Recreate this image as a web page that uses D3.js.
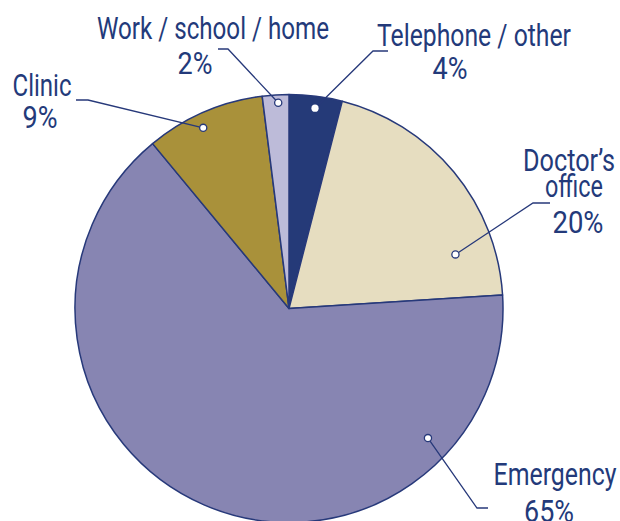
<!DOCTYPE html>
<html>
<head>
<meta charset="utf-8">
<script src="https://cdn.jsdelivr.net/npm/d3@7"></script>
<style>
  body { margin: 0; background: #fff; }
  svg text { font-family: Roboto, "Liberation Sans", sans-serif; fill: #233a7a; }
</style>
</head>
<body>
<svg id="pie-svg" width="620" height="521"></svg>
<script>
// Data (clockwise from 12 o'clock)
const categories = ["Telephone / other", "Doctor\u2019s office", "Emergency", "Clinic", "Work / school / home"];
const values = [4, 20, 65, 9, 2];
const colors = ["#253a78", "#e6ddc0", "#8785b2", "#a9913a", "#bdbbd9"];

// Label text lines
const labelLines = [
  ["Telephone / other", "4%"],
  ["Doctor\u2019s", "office", "20%"],
  ["Emergency", "65%"],
  ["Clinic", "9%"],
  ["Work / school / home", "2%"]
];
// leader layout: dot angle (deg), dot radius, elbow + end of line, text centre/baseline, text width
const labelLayout = [
  {dotAngle: 7.4, dotR: 202, elbow: [373, 51], end: [388, 51],
   text: [[474, 46, 194], [450, 79, 35]]},
  {dotAngle: 72, dotR: 175, elbow: [533, 203], end: [550, 203],
   text: [[569, 171, 92], [574, 197, 58], [578, 233, 51]]},
  {dotAngle: 133, dotR: 190, elbow: [477, 508], end: [488, 508],
   text: [[555, 485, 123], [549, 522, 50]]},
  {dotAngle: -25.4, dotR: 200, elbow: [88, 100], end: [76, 100],
   text: [[42, 96, 59], [40, 128, 35]]},
  {dotAngle: -3, dotR: 206, elbow: [228, 49], end: [218, 49],
   text: [[213, 39, 232], [195, 74, 35]]}
];

const svg = d3.select("#pie-svg");
const cx = 289, cy = 308.5, radius = 214;

const g = svg.append("g").attr("transform", `translate(${cx},${cy})`);

const pie = d3.pie().sort(null).value(d => d);
const arc = d3.arc().innerRadius(0).outerRadius(radius);
const arcs = pie(values);

// Slices
g.selectAll(".slice")
  .data(arcs)
  .enter()
  .append("path")
  .attr("class", "slice")
  .attr("d", arc)
  .attr("fill", (d, i) => colors[i])
  .attr("stroke", "#27397a")
  .attr("stroke-width", 1.5)
  .attr("stroke-linejoin", "round");

// Leader lines + labels
const toRad = Math.PI / 180;
labelLayout.forEach(function(l, i) {
  const a = l.dotAngle * toRad;
  const dx = cx + l.dotR * Math.sin(a);
  const dy = cy - l.dotR * Math.cos(a);

  svg.append("polyline")
    .attr("points", [[dx, dy], l.elbow, l.end].map(p => p.join(",")).join(" "))
    .attr("fill", "none")
    .attr("stroke", "#27397a")
    .attr("stroke-width", 1.3);

  svg.append("circle")
    .attr("cx", dx)
    .attr("cy", dy)
    .attr("r", 3.6)
    .attr("fill", "#fff")
    .attr("stroke", i === 0 ? "none" : "#27397a")
    .attr("stroke-width", 1.3);

  labelLines[i].forEach(function(line, j) {
    const t = l.text[j];
    svg.append("text")
      .attr("x", t[0])
      .attr("y", t[1])
      .attr("text-anchor", "middle")
      .attr("textLength", t[2])
      .attr("lengthAdjust", "spacingAndGlyphs")
      .style("font-size", "31px")
      .text(line);
  });
});
</script>
</body>
</html>
